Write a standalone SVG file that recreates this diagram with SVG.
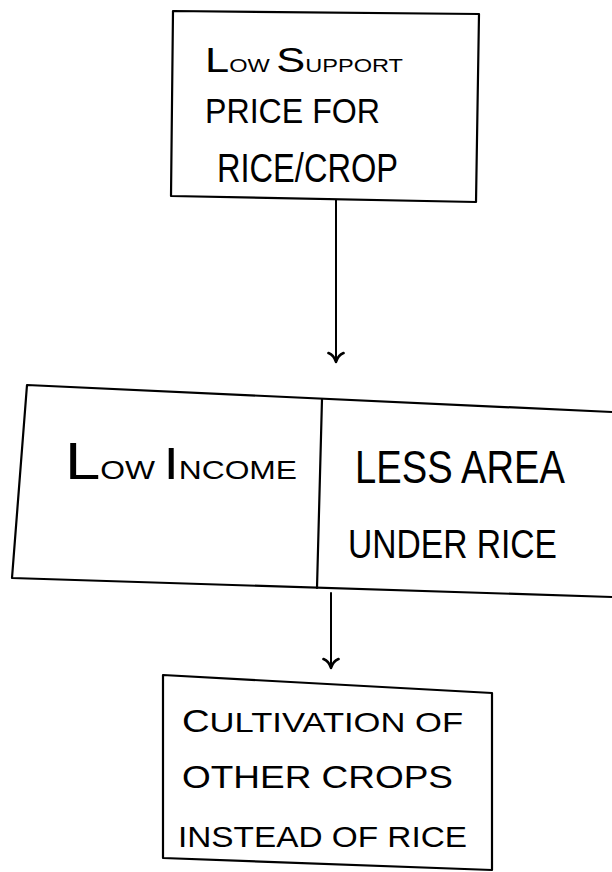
<svg xmlns="http://www.w3.org/2000/svg" width="612" height="872" viewBox="0 0 612 872">
  <style>
    .box { fill: none; stroke: #000; stroke-width: 2.2; stroke-linejoin: round; stroke-linecap: round; }
    .edge { fill: none; stroke: #000; stroke-width: 2; stroke-linecap: round; }
    .t { font-family: "Liberation Sans", "DejaVu Sans", sans-serif; fill: #000; font-weight: normal; }
  </style>
  <defs>
    <marker id="arrow" viewBox="0 0 14 18" refX="12" refY="9" markerWidth="14" markerHeight="18" markerUnits="userSpaceOnUse" orient="auto">
      <path d="M3,1.5 Q5,7 12,9 Q5,11 3,16.5" fill="none" stroke="#000" stroke-width="2.6" stroke-linecap="round" stroke-linejoin="round"/>
    </marker>
  </defs>
  <rect width="612" height="872" fill="#fff"/>

  <g id="node-low-support-price">
    <path class="box" d="M173,11 L479,14 L476,202 L171,196 Z"/>
    <text class="t" x="205" y="72" textLength="198" lengthAdjust="spacingAndGlyphs"><tspan font-size="35">L</tspan><tspan font-size="19">OW </tspan><tspan font-size="35">S</tspan><tspan font-size="19">UPPORT</tspan></text>
    <text class="t" x="205" y="123" font-size="35" textLength="175" lengthAdjust="spacingAndGlyphs">PRICE FOR</text>
    <text class="t" x="217" y="182" font-size="40" textLength="181" lengthAdjust="spacingAndGlyphs">RICE/CROP</text>
  </g>

  <g id="node-middle">
    <path class="box" d="M612,412 L27,385 L12,578 L612,597"/>
    <path class="box" d="M322,399 L317,588"/>
    <g id="node-low-income">
      <text class="t" x="65" y="479" textLength="232" lengthAdjust="spacingAndGlyphs"><tspan font-size="52">L</tspan><tspan font-size="26">OW </tspan><tspan font-size="44">I</tspan><tspan font-size="26">NCOME</tspan></text>
    </g>
    <g id="node-less-area">
      <text class="t" x="355" y="483" font-size="46" textLength="210" lengthAdjust="spacingAndGlyphs">LESS AREA</text>
      <text class="t" x="348" y="558" font-size="41" textLength="209" lengthAdjust="spacingAndGlyphs">UNDER RICE</text>
    </g>
  </g>

  <g id="node-cultivation">
    <path class="box" d="M163,675 L492,693 L492,870 M163,675 L163,858 L492,870"/>
    <text class="t" x="182" y="732" textLength="281" lengthAdjust="spacingAndGlyphs"><tspan font-size="31">C</tspan><tspan font-size="28">ULTIVATION OF</tspan></text>
    <text class="t" x="182" y="788" font-size="31" textLength="271" lengthAdjust="spacingAndGlyphs">OTHER CROPS</text>
    <text class="t" x="178" y="847" font-size="30" textLength="289" lengthAdjust="spacingAndGlyphs">INSTEAD OF RICE</text>
  </g>

  <g id="connectors">
    <path class="edge" d="M336,200 L336,362" marker-end="url(#arrow)"/>
    <path class="edge" d="M331,593 L331,668" marker-end="url(#arrow)"/>
  </g>
</svg>
